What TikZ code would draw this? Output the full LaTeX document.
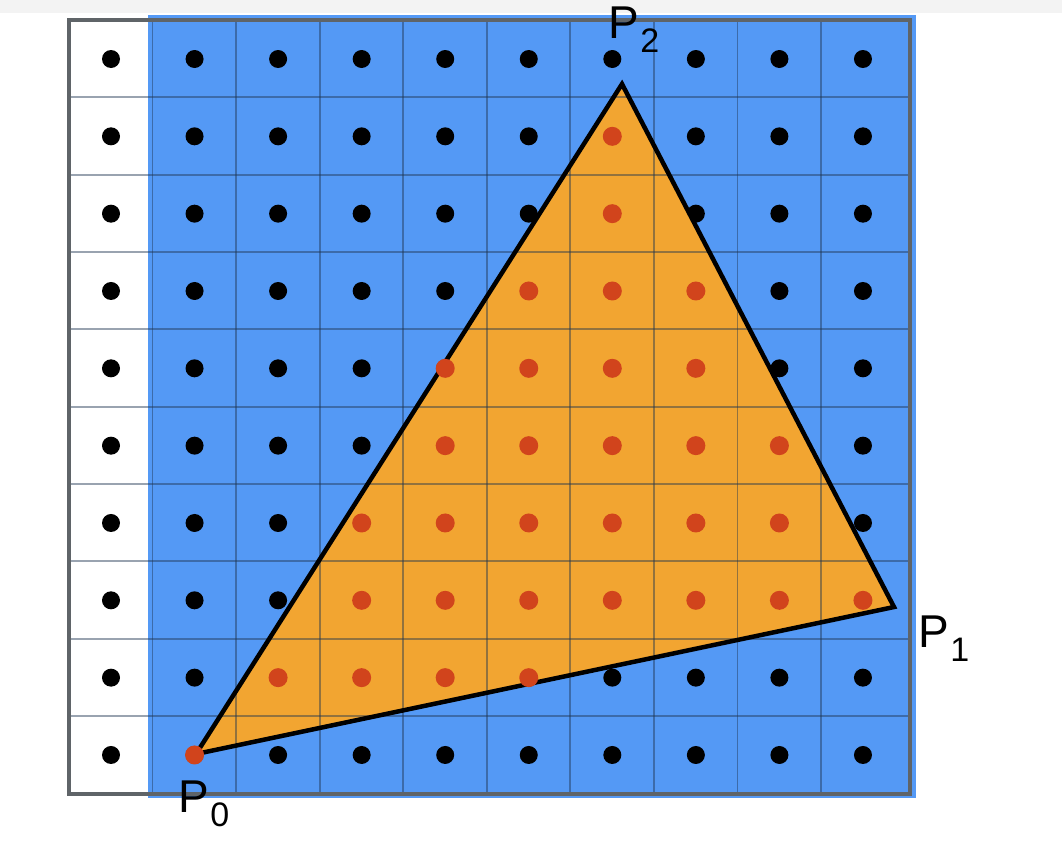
\documentclass[tikz,border=0pt]{standalone}
\usepackage{fontspec}
\setmainfont{Liberation Sans}
\definecolor{pixblue}{HTML}{5499F5}
\definecolor{triorange}{HTML}{F2A531}
\definecolor{sampred}{HTML}{D1441C}
\definecolor{framegray}{HTML}{5F6468}
\definecolor{topgray}{HTML}{F3F3F3}
\definecolor{linecol}{HTML}{1F3550}
\newcommand{\vlab}[1]{P\kern1pt\raisebox{-0.3em}{\fontsize{34}{34}\selectfont #1}}
\tikzset{
  gridline/.style={draw=linecol, opacity=0.45, line width=1.8pt},
  framebox/.style={draw=framegray, line width=4pt},
  tri/.style={fill=triorange, draw=black, line width=4.5pt, line join=miter},
  blackdot/.style={fill=black},
  reddot/.style={fill=sampred},
  vlabel/.style={font=\fontsize{46}{48}\selectfont, inner sep=0pt}
}
\begin{document}
\begin{tikzpicture}[x=1pt,y=-1pt]
\useasboundingbox (0,0) rectangle (1062,846);
\fill[white] (0,0) rectangle (1062,846);
\fill[topgray] (0,0) rectangle (1062,13);
% blue pixel area
\fill[pixblue] (148,15) rectangle (916,798);
% black sample dots
\foreach \i in {0,...,9}{
  \foreach \j in {0,...,9}{
    \fill[blackdot] ({111+83.55*\i},{59+77.33*\j}) circle (9);
  }
}
% triangle vertices
\coordinate (p0) at (196,754);
\coordinate (p1) at (894,607);
\coordinate (p2) at (622,84);
\fill[triorange] (p0) -- (p1) -- (p2) -- cycle;
% grid lines
\foreach \i in {1,...,9}{
  \draw[gridline] ({69+83.55*\i},20) -- ({69+83.55*\i},794);
}
\foreach \j in {1,...,9}{
  \draw[gridline] (69,{20+77.33*\j}) -- (910,{20+77.33*\j});
}
% frame
\draw[framebox] (69,20) rectangle (910,794);
% triangle outline
\draw[tri, fill=none] (p0) -- (p1) -- (p2) -- cycle;
% red samples inside the triangle
\foreach \c/\r in {6/1, 6/2, 5/3, 6/3, 7/3, 4/4, 5/4, 6/4, 7/4,
                   4/5, 5/5, 6/5, 7/5, 8/5,
                   3/6, 4/6, 5/6, 6/6, 7/6, 8/6,
                   3/7, 4/7, 5/7, 6/7, 7/7, 8/7, 9/7,
                   2/8, 3/8, 4/8, 5/8, 1/9}{
  \fill[reddot] ({111+83.55*\c},{59+77.33*\r}) circle (9.5);
}
% vertex labels
\node[vlabel] (l2) at (634,30) {\vlab{2}};
\node[vlabel] (l1) at (944,639) {\vlab{1}};
\node[vlabel] (l0) at (204,804) {\vlab{0}};
\end{tikzpicture}
\end{document}
